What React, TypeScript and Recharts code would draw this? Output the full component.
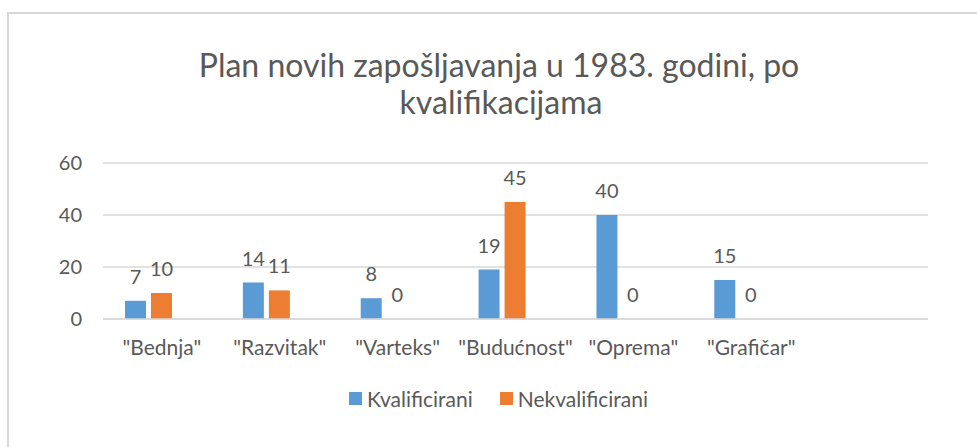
import React from 'react';
import { BarChart, Bar, XAxis, YAxis, CartesianGrid, Legend, LabelList } from 'recharts';

const categories = ['"Bednja"', '"Razvitak"', '"Varteks"', '"Budućnost"', '"Oprema"', '"Grafičar"', ''];
const kvalificirani: (number | null)[] = [7, 14, 8, 19, 40, 15, null];
const nekvalificirani: (number | null)[] = [10, 11, 0, 45, 0, 0, null];
const yTicks = [0, 20, 40, 60];
const seriesNames = ['Kvalificirani', 'Nekvalificirani'];
const titleLines = ['Plan novih zapošljavanja u 1983. godini, po', 'kvalifikacijama'];

const BLUE = '#5B9BD5';
const ORANGE = '#ED7D31';
const TEXT = '#595959';
const GRID = '#d9d9d9';
const FONT = 'Lato, "Open Sans", sans-serif';
const FS_NUM = 20;
const FS_TXT = 21;

const data = categories.map((name, i) => ({
  name,
  k: kvalificirani[i],
  n: nekvalificirani[i],
  e: null as number | null,
}));

const renderValueLabel = (props: any) => {
  const { x, y, width, value } = props;
  if (value === null || value === undefined) return null;
  return (
    <text
      x={Number(x) + Number(width) / 2}
      y={Number(y) - 17}
      textAnchor="middle"
      fill={TEXT}
      fontSize={FS_NUM}
      fontFamily={FONT}
    >
      {value}
    </text>
  );
};

const renderLegend = (props: any) => {
  const payload = (props.payload || []).filter((p: any) => p.type !== 'none');
  return (
    <div style={{ display: 'flex', justifyContent: 'center', alignItems: 'center', fontFamily: FONT, fontSize: FS_TXT, color: TEXT }}>
      {payload.map((p: any, i: number) => (
        <div key={i} style={{ display: 'flex', alignItems: 'center', marginRight: i === 0 ? 27 : 0 }}>
          <span style={{ display: 'inline-block', width: 13, height: 13, background: p.color, marginRight: 5 }} />
          <span>{p.value}</span>
        </div>
      ))}
    </div>
  );
};

export default function App() {
  return (
    <div style={{ position: 'absolute', left: 0, top: 0, width: 977, height: 447, overflow: 'hidden', background: '#fff' }}>
      <div style={{ position: 'absolute', left: 7, top: 12, width: 1000, height: 500, border: '2px solid #d9d9d9', boxSizing: 'border-box' }} />
      <div style={{ position: 'absolute', left: 0, top: 0 }}>
        <BarChart
          width={977}
          height={447}
          data={data}
          margin={{ top: 163, right: 49, left: 43, bottom: 88 }}
          barSize={21}
          barGap={5}
        >
          <CartesianGrid vertical={false} stroke={GRID} strokeWidth={1.5} />
          <XAxis
            dataKey="name"
            interval={0}
            tickLine={false}
            axisLine={{ stroke: GRID, strokeWidth: 1.5 }}
            tick={{ fill: TEXT, fontSize: FS_TXT, fontFamily: FONT }}
            tickSize={0}
            tickMargin={21}
            height={40}
          />
          <YAxis
            domain={[0, 60]}
            ticks={yTicks}
            width={60}
            axisLine={false}
            tickLine={false}
            tickSize={0}
            tickMargin={21}
            tick={{ fill: TEXT, fontSize: FS_NUM, fontFamily: FONT }}
          />
          <Legend
            verticalAlign="middle"
            align="center"
            layout="horizontal"
            wrapperStyle={{ top: 386, left: 0, width: 997 }}
            content={renderLegend}
          />
          <Bar dataKey="k" name={seriesNames[0]} fill={BLUE} minPointSize={0.001} isAnimationActive={false}>
            <LabelList dataKey="k" content={renderValueLabel} />
          </Bar>
          <Bar dataKey="n" name={seriesNames[1]} fill={ORANGE} minPointSize={0.001} isAnimationActive={false}>
            <LabelList dataKey="n" content={renderValueLabel} />
          </Bar>
          <Bar dataKey="e" name="" fill="transparent" legendType="none" isAnimationActive={false} />
        </BarChart>
      </div>
      <svg width={977} height={447} style={{ position: 'absolute', left: 0, top: 0, pointerEvents: 'none' }}>
        <text x={499} y={77} textAnchor="middle" fontSize={32} fontFamily={FONT} fill={TEXT}>{titleLines[0]}</text>
        <text x={501} y={114} textAnchor="middle" fontSize={32} fontFamily={FONT} fill={TEXT}>{titleLines[1]}</text>
      </svg>
    </div>
  );
}
